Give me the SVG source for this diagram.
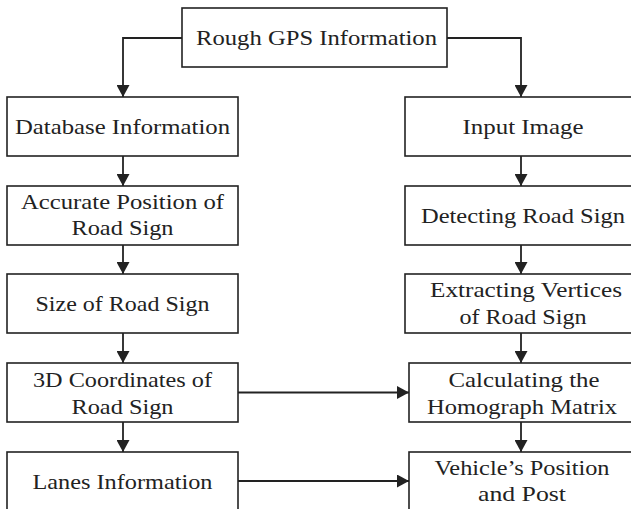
<svg xmlns="http://www.w3.org/2000/svg" width="631" height="509" viewBox="0 0 631 509">
<style>
.box{fill:#fff;stroke:#222;stroke-width:1.6}
.t{fill:#222;text-anchor:middle}
.c{fill:none;stroke:#222;stroke-width:1.8}
</style>
<defs>
<marker id="ah" markerUnits="userSpaceOnUse" markerWidth="13" markerHeight="13" refX="12" refY="6.5" orient="auto">
<path d="M0,0 L12,6.5 L0,13 z" fill="#222"/>
</marker>
</defs>
<rect width="631" height="509" fill="#fff"/>
<g id="connectors">
<path class="c" d="M182,38 H123 V97" marker-end="url(#ah)"/>
<path class="c" d="M447,38 H521 V97" marker-end="url(#ah)"/>
<path class="c" d="M123,156 V186" marker-end="url(#ah)"/>
<path class="c" d="M123,245 V274" marker-end="url(#ah)"/>
<path class="c" d="M123,333 V363" marker-end="url(#ah)"/>
<path class="c" d="M123,422 V452" marker-end="url(#ah)"/>
<path class="c" d="M521,156 V186" marker-end="url(#ah)"/>
<path class="c" d="M521,245 V274" marker-end="url(#ah)"/>
<path class="c" d="M521,333 V363" marker-end="url(#ah)"/>
<path class="c" d="M521,422 V452" marker-end="url(#ah)"/>
<path class="c" d="M238,392.5 H409" marker-end="url(#ah)"/>
<path class="c" d="M238,481 H409" marker-end="url(#ah)"/>
</g>
<g id="nodes" font-family="Liberation Serif" font-size="22">
<g id="rough-gps">
<rect class="box" x="182" y="8" width="265" height="59"/>
<text class="t" x="316.5" y="45" textLength="241" lengthAdjust="spacingAndGlyphs">Rough GPS Information</text>
</g>
<g id="database">
<rect class="box" x="7" y="97" width="231" height="59"/>
<text class="t" x="122.5" y="133.5" textLength="215" lengthAdjust="spacingAndGlyphs">Database Information</text>
</g>
<g id="accurate-position">
<rect class="box" x="7" y="186" width="231" height="59"/>
<text class="t" x="122.5" y="209" textLength="203" lengthAdjust="spacingAndGlyphs">Accurate Position of</text>
<text class="t" x="122.5" y="235" textLength="102" lengthAdjust="spacingAndGlyphs">Road Sign</text>
</g>
<g id="size">
<rect class="box" x="7" y="274" width="231" height="59"/>
<text class="t" x="122.5" y="311" textLength="174" lengthAdjust="spacingAndGlyphs">Size of Road Sign</text>
</g>
<g id="coordinates-3d">
<rect class="box" x="7" y="363" width="231" height="59"/>
<text class="t" x="122.5" y="387" textLength="179" lengthAdjust="spacingAndGlyphs">3D Coordinates of</text>
<text class="t" x="122.5" y="414" textLength="102" lengthAdjust="spacingAndGlyphs">Road Sign</text>
</g>
<g id="lanes">
<rect class="box" x="7" y="452" width="231" height="60"/>
<text class="t" x="122.5" y="489" textLength="180" lengthAdjust="spacingAndGlyphs">Lanes Information</text>
</g>
<g id="input-image">
<rect class="box" x="405" y="97" width="235" height="59"/>
<text class="t" x="523" y="133.5" textLength="121" lengthAdjust="spacingAndGlyphs">Input Image</text>
</g>
<g id="detecting">
<rect class="box" x="405" y="186" width="235" height="59"/>
<text class="t" x="523" y="222.5" textLength="204" lengthAdjust="spacingAndGlyphs">Detecting Road Sign</text>
</g>
<g id="extracting">
<rect class="box" x="405" y="274" width="235" height="59"/>
<text class="t" x="526" y="297" textLength="192" lengthAdjust="spacingAndGlyphs">Extracting Vertices</text>
<text class="t" x="523" y="324" textLength="127" lengthAdjust="spacingAndGlyphs">of Road Sign</text>
</g>
<g id="homograph">
<rect class="box" x="409" y="363" width="231" height="59"/>
<text class="t" x="524" y="387" textLength="151" lengthAdjust="spacingAndGlyphs">Calculating the</text>
<text class="t" x="522" y="414" textLength="190" lengthAdjust="spacingAndGlyphs">Homograph Matrix</text>
</g>
<g id="vehicle-position">
<rect class="box" x="409" y="452" width="231" height="60"/>
<text class="t" x="522" y="475" textLength="175" lengthAdjust="spacingAndGlyphs">Vehicle’s Position</text>
<text class="t" x="522" y="501" textLength="88" lengthAdjust="spacingAndGlyphs">and Post</text>
</g>
</g>
</svg>
